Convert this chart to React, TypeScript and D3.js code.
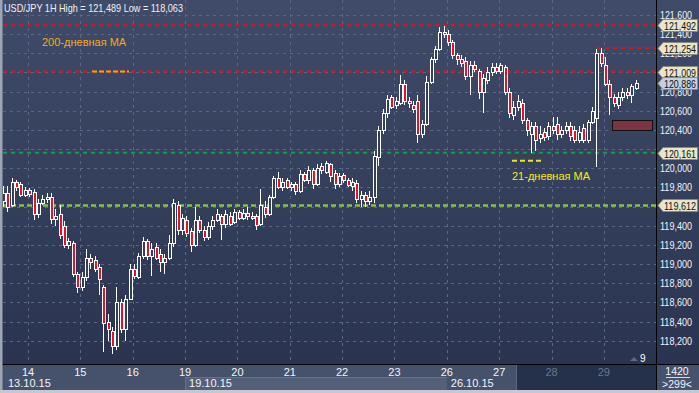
import React from "react";
import * as d3 from "d3";

// ---- data (2-hour steps starting 13.10 13:00, prices in JPY) ----
const opens = [119.66,119.74,119.62,119.86,119.84,119.72,119.77,119.75,119.52,119.64,119.68,119.70,119.47,119.52,119.40,119.20,119.22,118.90,118.76,118.86,119.06,119.04,118.97,118.76,118.40,118.30,118.14,118.60,118.32,118.64,118.95,118.86,119.08,119.24,119.08,119.18,119.10,119.02,119.06,119.22,119.62,119.36,119.46,119.34,119.20,119.46,119.36,119.28,119.40,119.46,119.50,119.42,119.50,119.44,119.54,119.48,119.53,119.50,119.50,119.42,119.60,119.52,119.70,119.90,119.80,119.88,119.80,119.84,119.76,119.94,119.88,119.98,119.84,120.02,119.96,120.04,119.95,119.84,119.93,119.88,119.82,119.85,119.68,119.72,119.66,119.70,120.12,120.40,120.58,120.74,120.66,120.68,120.88,120.70,120.66,120.70,120.36,120.46,120.90,121.14,121.24,121.42,121.40,121.32,121.18,121.14,121.12,120.96,121.08,121.02,120.80,120.92,121.00,121.06,121.02,121.06,120.80,120.56,120.64,120.68,120.50,120.36,120.44,120.32,120.38,120.34,120.44,120.46,120.36,120.40,120.44,120.40,120.30,120.42,120.30,120.48,120.52,121.20,121.08,120.88,120.74,120.66,120.74,120.80,120.76,120.84];
const highs = [119.81,119.82,119.90,119.88,119.86,119.80,119.79,119.78,119.68,119.72,119.74,119.74,119.57,119.62,119.45,119.27,119.24,118.92,118.92,119.16,119.10,119.08,119.00,118.78,118.48,118.34,118.76,118.64,118.68,119.00,119.00,119.12,119.28,119.26,119.22,119.22,119.16,119.10,119.30,119.68,119.66,119.52,119.50,119.38,119.60,119.50,119.40,119.44,119.50,119.58,119.52,119.56,119.54,119.58,119.56,119.58,119.60,119.54,119.52,119.78,119.66,119.72,119.92,119.96,119.90,119.90,119.86,119.86,119.98,119.96,120.02,120.00,120.04,120.06,120.08,120.06,119.98,119.95,119.95,119.90,119.90,119.88,119.76,119.75,119.76,120.18,120.44,120.62,120.76,120.76,120.74,120.97,120.92,120.74,120.70,120.76,120.50,120.96,121.16,121.28,121.47,121.49,121.44,121.34,121.20,121.18,121.16,121.12,121.12,121.04,120.98,121.06,121.10,121.10,121.10,121.08,120.84,120.70,120.76,120.72,120.52,120.48,120.48,120.44,120.42,120.48,120.53,120.54,120.44,120.48,120.48,120.44,120.44,120.46,120.50,120.64,121.25,121.26,121.16,120.92,120.78,120.80,120.84,120.84,120.88,120.92];
const lows = [119.60,119.54,119.60,119.76,119.70,119.70,119.70,119.46,119.48,119.62,119.64,119.42,119.40,119.26,119.17,119.16,118.86,118.70,118.72,118.82,118.95,118.92,118.68,118.08,118.20,118.06,118.10,118.28,118.20,118.62,118.84,118.84,119.05,119.04,118.88,119.04,118.92,118.90,119.04,119.18,119.30,119.30,119.28,119.13,119.18,119.32,119.24,119.25,119.36,119.44,119.25,119.38,119.40,119.42,119.46,119.46,119.46,119.46,119.36,119.40,119.48,119.50,119.68,119.78,119.76,119.78,119.76,119.72,119.74,119.86,119.84,119.78,119.82,119.94,119.94,119.86,119.78,119.80,119.85,119.80,119.76,119.64,119.60,119.60,119.62,119.64,120.02,120.36,120.52,120.62,120.62,120.66,120.66,120.63,120.58,120.26,120.32,120.44,120.88,121.10,121.22,121.36,121.28,121.14,121.08,121.06,120.92,120.77,121.00,120.72,120.58,120.88,120.96,120.98,120.98,120.76,120.52,120.50,120.60,120.46,120.34,120.16,120.18,120.26,120.28,120.30,120.36,120.30,120.32,120.36,120.28,120.26,120.26,120.26,120.26,120.46,120.01,121.06,120.86,120.56,120.64,120.62,120.70,120.72,120.68,120.82];
const closes = [119.74,119.60,119.86,119.80,119.72,119.77,119.73,119.52,119.64,119.68,119.70,119.47,119.50,119.30,119.20,119.24,118.90,118.76,118.86,119.06,119.02,118.95,118.84,118.38,118.32,118.14,118.60,118.32,118.64,118.95,118.88,119.08,119.24,119.08,119.16,119.06,119.02,119.06,119.22,119.64,119.36,119.48,119.32,119.20,119.46,119.36,119.28,119.40,119.46,119.52,119.42,119.52,119.42,119.54,119.48,119.53,119.50,119.48,119.41,119.62,119.52,119.70,119.90,119.80,119.86,119.80,119.84,119.76,119.94,119.88,119.98,119.84,120.00,119.98,120.06,119.92,119.84,119.92,119.88,119.83,119.86,119.68,119.72,119.66,119.70,120.13,120.40,120.58,120.72,120.64,120.70,120.88,120.70,120.68,120.62,120.36,120.46,120.90,121.14,121.24,121.42,121.40,121.32,121.18,121.14,121.10,120.96,121.08,121.04,120.80,120.94,121.00,121.06,121.02,121.08,120.80,120.58,120.64,120.70,120.50,120.40,120.44,120.30,120.36,120.33,120.44,120.40,120.36,120.40,120.44,120.34,120.30,120.38,120.30,120.48,120.60,121.20,121.10,120.88,120.74,120.68,120.74,120.80,120.76,120.86,120.886];
const firstHour = -11; // hours relative to 14.10 00:00
const stepHours = 2;

const dayLabels = ["14","15","16","19","20","21","22","23","26","27","28","29"];
const dateLabels = ["13.10.15","19.10.15","26.10.15"];
const dateLabelDays = [-1, 3, 8];
const priceTicks = [118.2,118.4,118.6,118.8,119.0,119.2,119.4,119.6,119.8,120.0,120.2,120.4,120.6,120.8,121.0,121.2,121.4,121.6];
const redLevels = [121.492, 121.254, 121.009];
const greenLevel = 120.161;
const limeLevel = 119.612;
const lastPrice = 120.886;
const ma200Level = 121.009;
const ma21Level = 120.079;
const titleText = "USD/JPY 1H  High = 121,489 Low = 118,063";

const W = 699, H = 393;
const plotRight = 656, plotBottom = 364;

export default function App() {
  React.useEffect(() => { document.body.style.margin = "0"; }, []);
  const x = d3.scaleLinear().domain([0, 24 * 11]).range([28, 28 + 52.35 * 11]);
  const y = d3.scaleLinear().domain([118.2, 121.6]).range([340.7, 15]);
  const fmt = (v: number) => d3.format(".3f")(v).replace(".", ",");
  const font = "'Liberation Sans', Arial, sans-serif";

  const candles = opens.map((o, i) => ({ o, h: highs[i], l: lows[i], c: closes[i], t: firstHour + i * stepHours }));
  const tagLevels = [...redLevels, lastPrice, greenLevel, limeLevel];
  // axis labels completely hidden behind a price tag are not drawn
  const visibleTicks = priceTicks.filter((v) => tagLevels.every((t) => Math.abs(y(v) - y(t)) > 5));

  const tag = (v: number, fill: string, key: string) => {
    const yy = Math.round(y(v));
    const p = `M658,${yy + 0.5} L663,${yy - 5.5} L697.5,${yy - 5.5} L697.5,${yy + 6.5} L663,${yy + 6.5} Z`;
    return (
      <g key={key}>
        <path d={p} fill={fill} stroke="#8a8a80" strokeWidth={1} />
        <text x={664} y={yy + 4.5} fontSize={11} fill="#111" fontFamily={font} textLength={32} lengthAdjust="spacingAndGlyphs">{fmt(v)}</text>
      </g>
    );
  };

  return (
    <svg width={W} height={H} style={{ position: "absolute", left: 0, top: 0, display: "block" }}>
      <defs>
        <linearGradient id="bg" x1="0" y1="0" x2="0" y2="1">
          <stop offset="0" stopColor="#3f4b68" />
          <stop offset="1" stopColor="#2a3451" />
        </linearGradient>
        <clipPath id="plotClip"><rect x={3} y={0} width={plotRight - 3} height={plotBottom} /></clipPath>
      </defs>
      <rect x={0} y={0} width={W} height={plotBottom} fill="url(#bg)" />
      {/* grid */}
      {priceTicks.map((v) => (
        <line key={"gy" + v} x1={3} x2={plotRight} y1={Math.round(y(v)) + 0.5} y2={Math.round(y(v)) + 0.5} stroke="#5b6784" strokeDasharray="3,4" />
      ))}
      {dayLabels.map((d, k) => (
        <line key={"gx" + d} x1={Math.round(x(k * 24)) + 0.5} x2={Math.round(x(k * 24)) + 0.5} y1={0} y2={plotBottom} stroke="#5b6784" strokeDasharray="3,4" />
      ))}
      {/* level lines */}
      <g clipPath="url(#plotClip)">
        <line x1={3} x2={plotRight} y1={y(redLevels[0])} y2={y(redLevels[0])} stroke="#dc1420" strokeWidth={2} strokeDasharray="4,4" />
        <line x1={597} x2={plotRight} y1={y(redLevels[1])} y2={y(redLevels[1])} stroke="#dc1420" strokeWidth={2} strokeDasharray="4,4" />
        <line x1={3} x2={plotRight} y1={y(redLevels[2])} y2={y(redLevels[2])} stroke="#dc1420" strokeWidth={2} strokeDasharray="4,4" />
        <line x1={3} x2={plotRight} y1={y(greenLevel)} y2={y(greenLevel)} stroke="#159a45" strokeWidth={2} strokeDasharray="4,4" />
        <line x1={3} x2={plotRight} y1={y(limeLevel)} y2={y(limeLevel)} stroke="#86c23e" strokeWidth={2.5} strokeDasharray="5,3" />
        <line x1={92} x2={129} y1={y(ma200Level)} y2={y(ma200Level)} stroke="#f4a20c" strokeWidth={2} strokeDasharray="5,2" />
        <line x1={512} x2={543} y1={y(ma21Level)} y2={y(ma21Level)} stroke="#f2e60a" strokeWidth={2} strokeDasharray="5,3" />
        {/* candles */}
        {candles.map((d, i) => {
          const a = Math.round(x(d.t));
          const top = Math.round(y(Math.max(d.o, d.c)));
          const bot = Math.max(Math.round(y(Math.min(d.o, d.c))), top + 1);
          const yh = Math.round(y(d.h));
          const yl = Math.round(y(d.l));
          const down = d.c < d.o;
          return (
            <g key={"c" + i}>
              <line x1={a - 0.5} x2={a - 0.5} y1={yh} y2={top} stroke="#fff" />
              <line x1={a - 0.5} x2={a - 0.5} y1={bot} y2={yl} stroke="#fff" />
              <rect x={a - 1.5} y={top + 0.5} width={3} height={bot - top} fill={down ? "#e4102c" : "#33405c"} stroke="#fff" strokeWidth={1} />
            </g>
          );
        })}
      </g>
      {/* annotations */}
      <text x={4} y={12} fontSize={11} fill="#eef1f6" fontFamily={font} textLength={179} lengthAdjust="spacingAndGlyphs">{titleText}</text>
      <text x={42} y={46} fontSize={11} fill="#f5a81c" fontFamily={font}>200-дневная MA</text>
      <text x={512} y={180} fontSize={11} fill="#f7ec12" fontFamily={font}>21-дневная MA</text>
      <rect x={612.5} y={120.5} width={40} height={10} fill="#7a3444" stroke="#111" />
      <path d="M630,361 L634,357 L638,361 Z" fill="#5d6884" />
      <text x={640} y={362} fontSize={10} fill="#fff" fontFamily={font}>9</text>
      {/* right axis */}
      <line x1={plotRight + 0.5} x2={plotRight + 0.5} y1={0} y2={H} stroke="#000" />
      {visibleTicks.map((v) => (
        <text key={"pl" + v} x={660} y={y(v) + 4} fontSize={11} fill="#f2f4f8" fontFamily={font} textLength={32} lengthAdjust="spacingAndGlyphs">{fmt(v)}</text>
      ))}
      {redLevels.map((v, k) => tag(v, "#e8e5c8", "rt" + k))}
      {tag(lastPrice, "#c6cfdc", "lp")}
      {tag(greenLevel, "#e8e5c8", "gt")}
      {tag(limeLevel, "#e8e5c8", "lt")}
      {/* bottom axis */}
      <rect x={0} y={plotBottom + 1} width={plotRight} height={H - plotBottom - 1} fill="#46526c" />
      <rect x={x(3 * 24)} y={378} width={x(8 * 24) - x(3 * 24)} height={12} fill="#546079" />
      <line x1={Math.round(x(3 * 24)) + 0.5} x2={Math.round(x(3 * 24)) + 0.5} y1={378} y2={390} stroke="#66728a" />
      <line x1={Math.round(x(3 * 24))} x2={x(8 * 24)} y1={377.5} y2={377.5} stroke="#66728a" />
      <rect x={517} y={plotBottom + 1} width={plotRight - 517} height={H - plotBottom - 4} fill="#25304a" />
      <line x1={516.5} x2={516.5} y1={plotBottom + 1} y2={390} stroke="#5c6882" />
      {dayLabels.map((d, k) => (
        <text key={"dl" + d} x={x(k * 24)} y={376} fontSize={11} textAnchor="middle" fill={x(k * 24) > 517 ? "#6a7690" : "#f2f4f8"} fontFamily={font}>{d}</text>
      ))}
      {dateLabels.map((d, k) => (
        <text key={"dd" + d} x={k === 0 ? 8 : x(dateLabelDays[k] * 24) + 4} y={387} fontSize={11} fill="#f2f4f8" fontFamily={font}>{d}</text>
      ))}
      <line x1={0} x2={W} y1={plotBottom + 0.5} y2={plotBottom + 0.5} stroke="#000" />
      <rect x={plotRight + 1} y={plotBottom + 1} width={W - plotRight - 1} height={H - plotBottom - 4} fill="#46526c" />
      <text x={677} y={375} fontSize={10.5} textAnchor="middle" fill="#f2f4f8" fontFamily={font}>1420</text>
      <line x1={666} x2={690} y1={377.5} y2={377.5} stroke="#d8dce4" />
      <text x={677} y={388} fontSize={10.5} textAnchor="middle" fill="#f2f4f8" fontFamily={font}>&gt;299&lt;</text>
      {/* frame */}
      <rect x={0} y={0} width={2.5} height={H} fill="#9ea6b4" />
      <rect x={0} y={390} width={W} height={3} fill="#c4c8d0" />
    </svg>
  );
}
